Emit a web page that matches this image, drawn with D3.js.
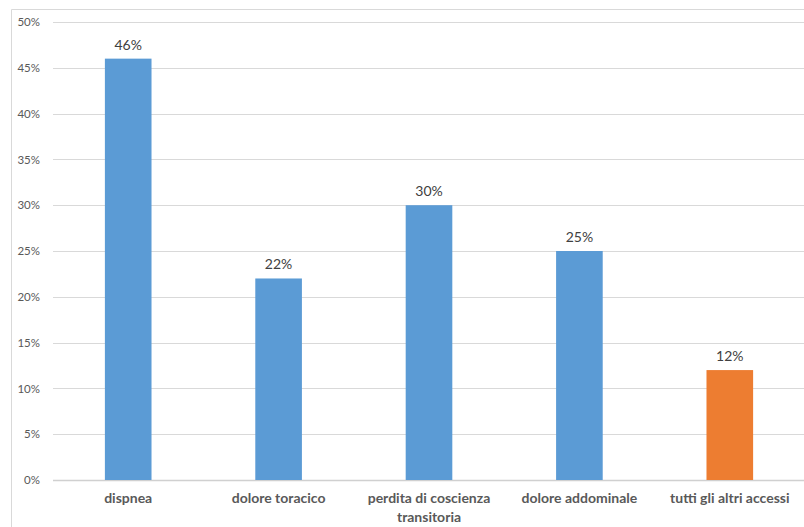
<!DOCTYPE html>
<html>
<head>
<meta charset="utf-8">
<script src="https://cdn.jsdelivr.net/npm/d3@7"></script>
<style>
  body { margin: 0; background: #fff; }
  text { font-family: Lato, "Open Sans", sans-serif; fill: #595959; }
</style>
</head>
<body>
<script>
// Chart data
const categories = ["dispnea", "dolore toracico", "perdita di coscienza transitoria", "dolore addominale", "tutti gli altri accessi"];
const values = [46, 22, 30, 25, 12];
const barColors = ["#5b9bd5", "#5b9bd5", "#5b9bd5", "#5b9bd5", "#ed7d31"];
const yTicks = [0, 5, 10, 15, 20, 25, 30, 35, 40, 45, 50];

const W = 804, H = 527;
const mLeft = 53, mRight = 805, mTop = 22, mBottom = 480;

const svg = d3.select("body").append("svg")
    .attr("width", W)
    .attr("height", H)
    .style("display", "block");

// chart frame (cropped on right and bottom)
svg.append("path")
    .attr("d", "M11.5," + H + "V9.5H" + (W + 2))
    .attr("fill", "none")
    .attr("stroke", "#d9d9d9");

// scales
const x = d3.scaleBand()
    .domain(categories)
    .range([mLeft, mRight])
    .paddingInner(0.69)
    .paddingOuter(0.345);

const y = d3.scaleLinear()
    .domain([0, 50])
    .range([mBottom, mTop]);

// gridlines
svg.append("g")
    .selectAll("line")
    .data(yTicks)
    .enter().append("line")
    .attr("x1", mLeft)
    .attr("x2", W)
    .attr("y1", d => Math.round(y(d)) + 0.5)
    .attr("y2", d => Math.round(y(d)) + 0.5)
    .attr("stroke", d => d === 0 ? "#d0d0d0" : "#d9d9d9")
    .attr("stroke-width", d => d === 0 ? 1.5 : 1);

// y axis labels
const yAxis = d3.axisLeft(y)
    .tickValues(yTicks)
    .tickFormat(d => d + "%")
    .tickSize(0)
    .tickPadding(13);

svg.append("g")
    .attr("transform", "translate(" + mLeft + ",0)")
    .call(yAxis)
    .call(g => g.select(".domain").remove())
    .call(g => g.selectAll("text")
        .style("font-family", "Lato, 'Open Sans', sans-serif")
        .style("font-size", "11.5px")
        .attr("fill", "#595959"));

// bars
svg.append("g")
    .selectAll("rect")
    .data(values)
    .enter().append("rect")
    .attr("x", (d, i) => x(categories[i]))
    .attr("y", d => y(d))
    .attr("width", x.bandwidth())
    .attr("height", d => mBottom - y(d))
    .attr("fill", (d, i) => barColors[i]);

// value labels
svg.append("g")
    .selectAll("text")
    .data(values)
    .enter().append("text")
    .attr("x", (d, i) => x(categories[i]) + x.bandwidth() / 2)
    .attr("y", d => y(d) - 9)
    .attr("text-anchor", "middle")
    .style("font-size", "14px")
    .style("fill", "#404040")
    .text(d => d + "%");

// category labels (wrap long one)
const catLines = {
  "perdita di coscienza transitoria": ["perdita di coscienza", "transitoria"]
};
const cat = svg.append("g")
    .selectAll("text")
    .data(categories)
    .enter().append("text")
    .attr("x", d => x(d) + x.bandwidth() / 2)
    .attr("y", 503)
    .attr("text-anchor", "middle")
    .style("font-size", "14px")
    .style("font-weight", "bold");

cat.each(function(d) {
  const lines = catLines[d] || [d];
  const t = d3.select(this);
  lines.forEach((l, i) => {
    t.append("tspan")
      .attr("x", x(d) + x.bandwidth() / 2)
      .attr("dy", i === 0 ? 0 : 19)
      .text(l);
  });
});
</script>
</body>
</html>
